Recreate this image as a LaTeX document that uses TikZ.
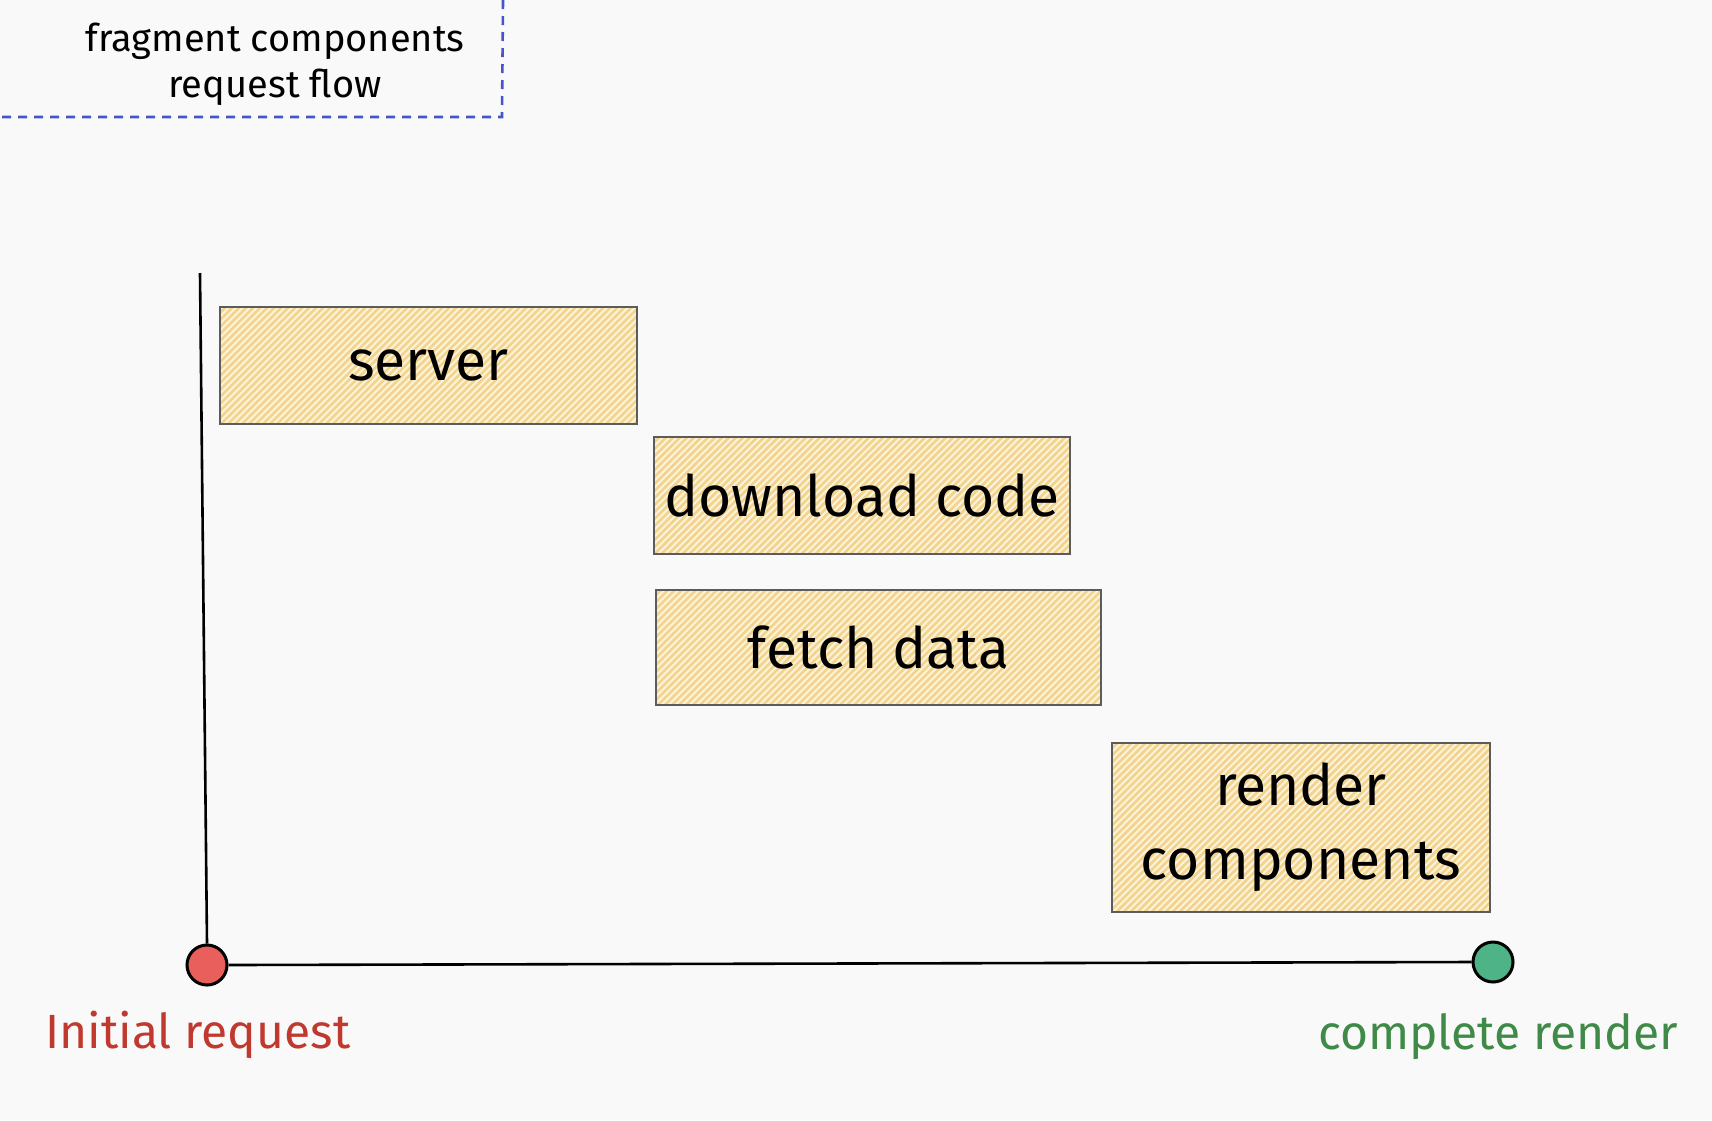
\documentclass[tikz,border=0pt]{standalone}
\usepackage{fontspec}
\setmainfont{Fira Sans}
\definecolor{bg}{HTML}{F9F9F9}
\definecolor{hatch}{HTML}{F3D48C}
\definecolor{hatchbg}{HTML}{FCF3DC}
\definecolor{boxline}{HTML}{5C5C5C}
\definecolor{titleblue}{HTML}{4456C8}
\definecolor{redlbl}{HTML}{C0392F}
\definecolor{greenlbl}{HTML}{3F8A46}
\definecolor{reddot}{HTML}{E95F5C}
\definecolor{greendot}{HTML}{4FB388}
\tikzset{
  taskbox/.style={draw=boxline, line width=1.8pt, fill=hatchbg, inner sep=0pt,
    font=\fontsize{57}{74}\selectfont, align=center,
    path picture={
      \foreach \i in {-120,...,20}{
        \draw[hatch, line width=2.6pt]
          ([xshift=\i*7pt, yshift=-320pt]path picture bounding box.center) -- ++(640pt,640pt);
      }
    }},
  dot/.style={circle, draw=black, line width=3pt, minimum size=40pt, inner sep=0pt},
  axis/.style={line width=2.6pt, black},
  lbl/.style={font=\fontsize{48}{54}\selectfont, inner sep=0pt}
}
\begin{document}
\begin{tikzpicture}[x=1pt,y=-1pt]
\fill[bg] (0,0) rectangle (1712,1120);
\useasboundingbox (0,0) rectangle (1712,1120);
% title
\node[font=\fontsize{38}{46}\selectfont, align=center, inner sep=0pt] (title) at (275,64) {fragment components\\request flow};
\coordinate (tbr) at (502,117);
\coordinate (ttr) at (503,0);
\coordinate (tbl) at (0,117);
\draw[titleblue, line width=2.6pt, dash pattern=on 9pt off 7pt] (ttr) -- (tbr) -- (tbl);
% boxes
\node[taskbox, minimum width=417pt, minimum height=117pt] (server) at (428.5,365.5) {server};
\node[taskbox, minimum width=416pt, minimum height=117pt] (download) at (862,495.5) {download code};
\node[taskbox, minimum width=445pt, minimum height=115pt] (fetch) at (878.5,647.5) {fetch data};
\node[taskbox, minimum width=378pt, minimum height=169pt] (render) at (1301,827.5) {render\\components};
% axes
\node[dot, fill=reddot] (start) at (207,965) {};
\node[dot, fill=greendot] (end) at (1493,962) {};
\coordinate (ytop) at (200,273);
\draw[axis] (ytop) -- (start.north);
\draw[axis] (start.east) -- (end.west);
% labels
\node[lbl, text=redlbl] (initial) at (198,1035) {Initial request};
\node[lbl, text=greenlbl] (complete) at (1498,1037) {complete render};
\end{tikzpicture}
\end{document}
